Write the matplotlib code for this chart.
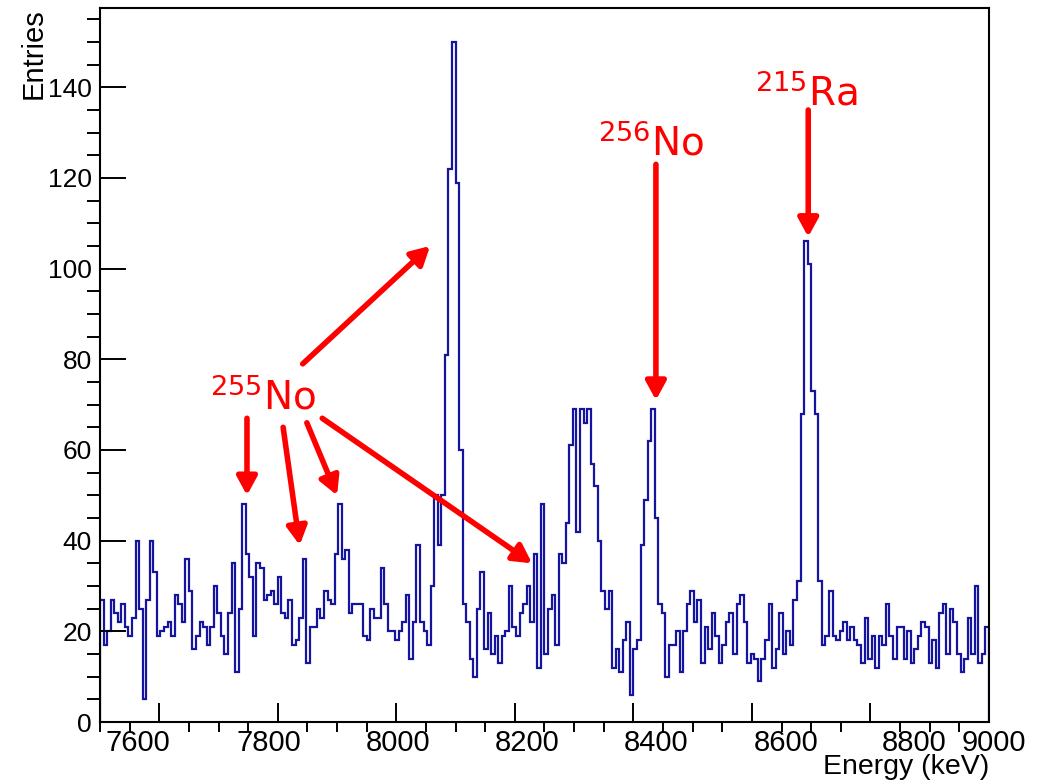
import matplotlib
matplotlib.use('Agg')
import matplotlib.pyplot as plt
import matplotlib.transforms as mtransforms
import numpy as np

# histogram: 250 bins of 6 keV from 7500 to 9000 keV
x_min = 7500
bin_width = 6
counts = [
    27, 17, 20, 27, 24, 22, 26, 21, 19, 23, 40, 25, 5, 27, 40, 33, 19, 20, 21, 22,
    19, 28, 26, 22, 36, 29, 16, 19, 22, 21, 17, 21, 30, 24, 19, 15, 24, 35, 11, 25,
    48, 37, 32, 19, 35, 34, 27, 28, 29, 26, 32, 24, 23, 27, 17, 18, 23, 36, 13, 21,
    21, 25, 23, 29, 27, 26, 37, 48, 36, 38, 24, 26, 26, 26, 19, 18, 25, 23, 23, 34,
    26, 20, 20, 18, 20, 22, 28, 14, 22, 39, 22, 20, 17, 30, 50, 39, 50, 81, 122, 150,
    119, 60, 26, 22, 14, 10, 25, 33, 16, 24, 15, 19, 13, 19, 20, 30, 21, 19, 24, 26,
    30, 22, 37, 12, 48, 15, 25, 28, 17, 37, 35, 44, 61, 69, 42, 69, 66, 69, 57, 52,
    40, 29, 25, 29, 12, 16, 11, 18, 22, 6, 16, 18, 39, 49, 62, 69, 45, 26, 24, 10,
    17, 17, 20, 11, 20, 26, 29, 22, 27, 13, 21, 16, 24, 19, 13, 17, 22, 24, 15, 26,
    28, 22, 13, 15, 14, 9, 14, 18, 26, 12, 16, 24, 15, 20, 17, 27, 31, 68, 106, 101,
    73, 68, 31, 17, 19, 29, 19, 18, 20, 22, 18, 21, 18, 17, 13, 23, 14, 19, 12, 19,
    17, 26, 19, 14, 21, 21, 14, 20, 13, 16, 19, 22, 21, 13, 18, 12, 24, 26, 15, 25,
    22, 15, 11, 14, 23, 15, 30, 13, 15, 21,
]
edges = x_min + bin_width * np.arange(len(counts) + 1)

xtick_vals = [7600, 7800, 8000, 8200, 8400, 8600, 8800, 9000]
ytick_vals = [0, 20, 40, 60, 80, 100, 120, 140]

# annotations: (text, text x, text y) and arrows (x0, y0, x1, y1) in data units
labels = [
    ('$^{255}$No', 7686, 69),
    ('$^{256}$No', 8340, 125),
    ('$^{215}$Ra', 8605, 136),
]
arrows = [
    (7842, 79, 8057, 105),
    (7875, 67, 8229, 35),
    (7748, 67, 7748, 50),
    (7809, 65, 7837, 39),
    (7849, 66, 7900, 50),
    (8438, 123, 8438, 71),
    (8695, 135, 8695, 107),
]

plt.rcParams['font.family'] = ['Liberation Sans', 'DejaVu Sans']
narrow = ['Liberation Sans Narrow', 'Liberation Sans']

fig = plt.figure(figsize=(10.46, 7.83), dpi=100)
ax = fig.add_axes([0.0956, 0.0779, 0.8499, 0.9119])

ax.stairs(counts, edges, color='#1414a0', linewidth=1.6)

ax.set_xlim(7500, 9000)
ax.set_ylim(0, 157.5)
ax.set_xticks(xtick_vals)
ax.set_xticks(np.arange(7500, 9001, 50), minor=True)
ax.set_yticks(ytick_vals)
ax.set_yticks(np.arange(0, 156, 5), minor=True)

ax.tick_params(direction='in', top=False, right=False, width=1.4)
ax.tick_params(axis='x', which='major', length=14, pad=5)
ax.tick_params(axis='x', which='minor', length=7, width=1.4)
ax.tick_params(axis='y', which='major', length=19, pad=6, labelsize=19)
ax.tick_params(axis='y', which='minor', length=9.5, width=1.4)
for s in ax.spines.values():
    s.set_linewidth(1.5)

# x labels are narrower and sit a little off their ticks in the original
ax.set_xticklabels([str(v) for v in xtick_vals], family=narrow, fontsize=21)
shifts_px = [-21, -9, 2, 12, 23, 34, 44, 5]
for lab, dx in zip(ax.get_xticklabels(), shifts_px):
    lab.set_transform(lab.get_transform() +
                      mtransforms.ScaledTranslation(dx / 100, 0, fig.dpi_scale_trans))

ax.set_xlabel('Energy (keV)', fontsize=20.5, family=narrow, loc='right', labelpad=-2)
ax.set_ylabel('Entries', fontsize=21, family=narrow, loc='top', labelpad=0)

for txt, tx, ty in labels:
    ax.text(tx, ty, txt, color='red', fontsize=28, family='DejaVu Sans')

for x0, y0, x1, y1 in arrows:
    ax.annotate('', xy=(x1, y1), xytext=(x0, y0),
                arrowprops=dict(arrowstyle='-|>,head_length=1.1,head_width=0.6',
                                color='red', lw=4, shrinkA=0, shrinkB=0))

plt.savefig('out.png', dpi=100)
